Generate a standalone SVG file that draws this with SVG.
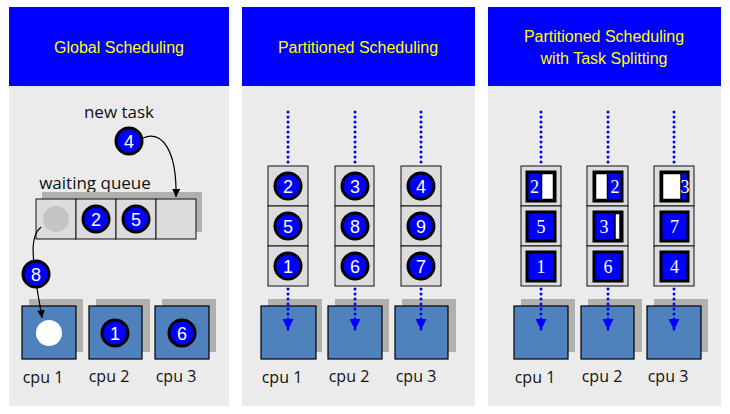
<svg xmlns="http://www.w3.org/2000/svg" width="730" height="414" viewBox="0 0 730 414">
<defs>
<style>
.panel{fill:#ebebeb}
.head{fill:#0000ff}
.htxt{font-family:"Liberation Sans",Arial,sans-serif;font-size:16px;fill:#ffff00;text-anchor:middle}
.lbl{font-family:"Open Sans","Liberation Sans",sans-serif;font-size:17px;fill:#111;text-anchor:middle}
.clbl{font-family:"Open Sans","Liberation Sans",sans-serif;font-size:16px;fill:#111;text-anchor:middle}
.tc{fill:#0000ff;stroke:#000;stroke-width:3}
.tn{font-family:"Liberation Sans",Arial,sans-serif;font-size:18px;fill:#fff;text-anchor:middle}
.sn{font-family:"Liberation Serif","Times New Roman",serif;font-size:18px;fill:#fff;text-anchor:middle}
.box{fill:#dcdcdc;stroke:#111;stroke-width:1}
.shd{fill:#b0b0ac}
.cpu{fill:#4f81bd;stroke:#000;stroke-width:1.2}
.dot{fill:none;stroke:#0000ff;stroke-width:3;stroke-linecap:round;stroke-dasharray:0 5}
.blk{fill:none;stroke:#000;stroke-width:1.2}
.fr{fill:#0000ff;stroke:#000;stroke-width:3}
.wh{fill:#fff;stroke:#000;stroke-width:1.5}
</style>
<marker id="ah" viewBox="0 0 10 10" refX="10" refY="5" markerWidth="8" markerHeight="8" markerUnits="userSpaceOnUse" orient="auto"><path d="M0,0 L10,5 L0,10 z" fill="#000"/></marker>
<marker id="bh" viewBox="0 0 10 10" refX="10" refY="5" markerWidth="11" markerHeight="11" markerUnits="userSpaceOnUse" orient="auto"><path d="M0,0 L10,5 L0,10 z" fill="#0000ff"/></marker>
</defs>
<rect width="730" height="414" fill="#fff"/>

<!-- Panel 1 -->
<g id="panel-global">
<rect class="panel" x="9" y="7" width="220" height="399"/>
<rect class="head" x="9" y="7" width="220" height="79"/>
<text class="htxt" x="119" y="53">Global Scheduling</text>
<text class="lbl" x="119" y="118">new task</text>
<text class="lbl" x="95" y="189">waiting queue</text>
</g>
<g id="queue">
<rect class="shd" x="42" y="192" width="40" height="40"/>
<rect class="shd" x="82" y="192" width="40" height="40"/>
<rect class="shd" x="122" y="192" width="40" height="40"/>
<rect class="shd" x="162" y="192" width="40" height="40"/>
<rect class="box" x="36" y="199" width="40" height="40"/>
<rect class="box" x="76" y="199" width="40" height="40"/>
<rect class="box" x="116" y="199" width="40" height="40"/>
<rect class="box" x="156" y="199" width="40" height="40"/>
<circle cx="56" cy="219" r="13" fill="#c4c4c4"/>
</g>
<g id="cpus-global">
<rect class="shd" x="29" y="299" width="54" height="53"/>
<rect class="shd" x="96" y="299" width="54" height="53"/>
<rect class="shd" x="162" y="299" width="54" height="53"/>
<rect class="cpu" x="22" y="306" width="54" height="53"/>
<rect class="cpu" x="89" y="306" width="53" height="53"/>
<rect class="cpu" x="155" y="306" width="54" height="53"/>
<circle cx="49" cy="333" r="13" fill="#fff"/>
<text class="clbl" x="43" y="383">cpu 1</text>
<text class="clbl" x="109" y="382">cpu 2</text>
<text class="clbl" x="176" y="382">cpu 3</text>
</g>
<g id="connectors-global">
<path class="blk" d="M143,138 C162,130 177,150 176,197" marker-end="url(#ah)"/>
<path class="blk" d="M41,227 C30,236 33,256 35,274 S40,304 42,318" marker-end="url(#ah)"/>
</g>
<g id="tasks-global">
<circle class="tc" cx="129" cy="141" r="13"/><text class="tn" x="129" y="147.5">4</text>
<circle class="tc" cx="96" cy="219" r="13"/><text class="tn" x="96" y="225.5">2</text>
<circle class="tc" cx="136" cy="219" r="13"/><text class="tn" x="136" y="225.5">5</text>
<circle class="tc" cx="36" cy="274" r="13"/><text class="tn" x="36" y="280.5">8</text>
<circle class="tc" cx="115" cy="333" r="13"/><text class="tn" x="115" y="339.5">1</text>
<circle class="tc" cx="182" cy="333" r="13"/><text class="tn" x="182" y="339.5">6</text>
</g>

<!-- Panel 2 -->
<g id="panel-partitioned">
<rect class="panel" x="242" y="7" width="233" height="399"/>
<rect class="head" x="242" y="7" width="233" height="79"/>
<text class="htxt" x="358" y="53">Partitioned Scheduling</text>
</g>
<g id="cpus-partitioned">
<rect class="shd" x="268" y="299" width="54" height="53"/>
<rect class="shd" x="335" y="299" width="54" height="53"/>
<rect class="shd" x="402" y="299" width="54" height="53"/>
<rect class="cpu" x="261" y="306" width="55" height="53"/>
<rect class="cpu" x="328" y="306" width="54" height="53"/>
<rect class="cpu" x="395" y="306" width="53" height="53"/>
<text class="clbl" x="282" y="383">cpu 1</text>
<text class="clbl" x="349" y="382">cpu 2</text>
<text class="clbl" x="416" y="382">cpu 3</text>
</g>
<g id="connectors-partitioned">
<path class="dot" d="M288,112 V165"/>
<path class="dot" d="M355,112 V165"/>
<path class="dot" d="M421,112 V165"/>
<path class="dot" d="M288,289 V330" marker-end="url(#bh)"/>
<path class="dot" d="M355,289 V330" marker-end="url(#bh)"/>
<path class="dot" d="M421,289 V330" marker-end="url(#bh)"/>
</g>
<g id="queue-p1">
<rect class="box" x="268" y="166" width="40" height="40"/>
<rect class="box" x="268" y="206" width="40" height="40"/>
<rect class="box" x="268" y="246" width="40" height="40"/>
<circle class="tc" cx="288" cy="186" r="13"/><text class="tn" x="288" y="192.5">2</text>
<circle class="tc" cx="288" cy="226" r="13"/><text class="tn" x="288" y="232.5">5</text>
<circle class="tc" cx="288" cy="266" r="13"/><text class="tn" x="288" y="272.5">1</text>
</g>
<g id="queue-p2">
<rect class="box" x="335" y="166" width="39" height="40"/>
<rect class="box" x="335" y="206" width="39" height="40"/>
<rect class="box" x="335" y="246" width="39" height="40"/>
<circle class="tc" cx="355" cy="186" r="13"/><text class="tn" x="355" y="192.5">3</text>
<circle class="tc" cx="355" cy="226" r="13"/><text class="tn" x="355" y="232.5">8</text>
<circle class="tc" cx="355" cy="266" r="13"/><text class="tn" x="355" y="272.5">6</text>
</g>
<g id="queue-p3">
<rect class="box" x="401" y="166" width="40" height="40"/>
<rect class="box" x="401" y="206" width="40" height="40"/>
<rect class="box" x="401" y="246" width="40" height="40"/>
<circle class="tc" cx="421" cy="186" r="13"/><text class="tn" x="421" y="192.5">4</text>
<circle class="tc" cx="421" cy="226" r="13"/><text class="tn" x="421" y="232.5">9</text>
<circle class="tc" cx="421" cy="266" r="13"/><text class="tn" x="421" y="272.5">7</text>
</g>

<!-- Panel 3 -->
<g id="panel-splitting">
<rect class="panel" x="488" y="7" width="233" height="399"/>
<rect class="head" x="488" y="7" width="233" height="79"/>
<text class="htxt" x="604" y="42">Partitioned Scheduling</text>
<text class="htxt" x="604" y="64">with Task Splitting</text>
</g>
<g id="cpus-splitting">
<rect class="shd" x="521" y="299" width="54" height="53"/>
<rect class="shd" x="588" y="299" width="54" height="53"/>
<rect class="shd" x="654" y="299" width="54" height="53"/>
<rect class="cpu" x="514" y="306" width="54" height="53"/>
<rect class="cpu" x="581" y="306" width="53" height="53"/>
<rect class="cpu" x="647" y="306" width="54" height="53"/>
<text class="clbl" x="535" y="383">cpu 1</text>
<text class="clbl" x="602" y="382">cpu 2</text>
<text class="clbl" x="668" y="382">cpu 3</text>
</g>
<g id="connectors-splitting">
<path class="dot" d="M541,112 V165"/>
<path class="dot" d="M608,112 V165"/>
<path class="dot" d="M674,112 V165"/>
<path class="dot" d="M541,289 V330" marker-end="url(#bh)"/>
<path class="dot" d="M608,289 V330" marker-end="url(#bh)"/>
<path class="dot" d="M674,289 V330" marker-end="url(#bh)"/>
</g>
<g id="queue-s1">
<rect class="box" x="521" y="166" width="40" height="40"/>
<rect class="box" x="521" y="206" width="40" height="40"/>
<rect class="box" x="521" y="246" width="40" height="40"/>
<rect class="fr" x="527" y="172" width="28" height="29"/>
<rect class="wh" x="541.5" y="173.5" width="12" height="26"/>
<text class="sn" x="534.5" y="193">2</text>
<rect class="fr" x="527" y="212" width="28" height="29"/>
<text class="sn" x="541" y="233">5</text>
<rect class="fr" x="527" y="252" width="28" height="29"/>
<text class="sn" x="541" y="273">1</text>
</g>
<g id="queue-s2">
<rect class="box" x="587" y="166" width="41" height="40"/>
<rect class="box" x="587" y="206" width="41" height="40"/>
<rect class="box" x="587" y="246" width="41" height="40"/>
<rect class="fr" x="594" y="172" width="28" height="29"/>
<rect class="wh" x="595.5" y="173.5" width="12" height="26"/>
<text class="sn" x="615" y="193">2</text>
<rect class="fr" x="594" y="212" width="28" height="29"/>
<rect class="wh" x="615" y="213.5" width="5" height="26"/>
<text class="sn" x="604" y="233">3</text>
<rect class="fr" x="594" y="252" width="28" height="29"/>
<text class="sn" x="608" y="273">6</text>
</g>
<g id="queue-s3">
<rect class="box" x="654" y="166" width="40" height="40"/>
<rect class="box" x="654" y="206" width="40" height="40"/>
<rect class="box" x="654" y="246" width="40" height="40"/>
<rect class="fr" x="661" y="172" width="27" height="29"/>
<rect class="wh" x="662.5" y="173.5" width="18.5" height="26"/>
<text class="sn" x="685" y="193">3</text>
<rect class="fr" x="661" y="212" width="27" height="29"/>
<text class="sn" x="674.5" y="233">7</text>
<rect class="fr" x="661" y="252" width="27" height="29"/>
<text class="sn" x="674.5" y="273">4</text>
</g>
</svg>
